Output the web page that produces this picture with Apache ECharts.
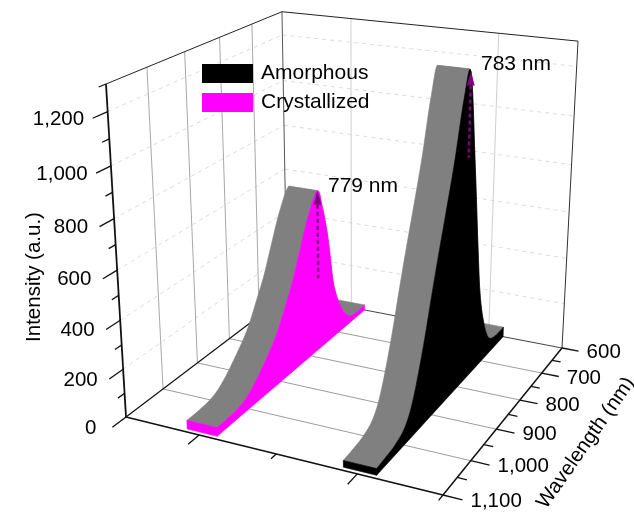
<!DOCTYPE html>
<html>
<head>
<meta charset="utf-8">
<style>html,body{margin:0;padding:0;background:#fff}#chart{width:634px;height:512px}</style>
<script src="https://cdn.jsdelivr.net/npm/echarts@6/dist/echarts.min.js"></script>
</head>
<body>
<div id="chart"></div>
<script>
// ---- data ----
const amorphousWavelength = [600, 640, 671, 696, 714, 728, 752, 778, 803, 832, 860, 885, 907, 937, 970, 997, 1030, 1060, 1092];
const amorphousIntensity  = [44, 46, 75, 178, 314, 511, 900, 1260, 1169, 960, 790, 645, 510, 320, 150, 72, 42, 33, 27];
const crystalWavelength   = [600, 650, 676, 694, 708, 720, 730, 740, 755, 772, 804, 832, 856, 876, 910, 942, 986, 1020, 1063, 1092];
const crystalIntensity    = [24, 26, 64, 120, 180, 260, 385, 495, 610, 697, 613, 498, 395, 328, 221, 154, 80, 46, 36, 36];
const intensityMajor = [200, 400, 600, 800, 1000, 1200];
const intensityMinor = [100, 300, 500, 700, 900, 1100, 1300];
const intensityLabels = ['0', '200', '400', '600', '800', '1,000', '1,200'];
const wavelengthMajor = [600, 700, 800, 900, 1000, 1100];
const wavelengthMinor = [650, 750, 850, 950, 1050];
const wavelengthLabels = ['600', '700', '800', '900', '1,000', '1,100'];

// ---- perspective camera: floor corners and wall tops of the 3D box ----
const pA = [126, 417], pB = [443, 495], pC = [562, 348], pD = [287, 295], pE = [106, 84], pF = [578, 43];
const dx1 = pB[0] - pC[0], dx2 = pD[0] - pC[0], sx = pA[0] - pB[0] + pC[0] - pD[0];
const dy1 = pB[1] - pC[1], dy2 = pD[1] - pC[1], sy = pA[1] - pB[1] + pC[1] - pD[1];
const det = dx1 * dy2 - dx2 * dy1;
const g = (sx * dy2 - dx2 * sy) / det, h = (dx1 * sy - sx * dy1) / det;
const a = pB[0] - pA[0] + g * pB[0], b = pD[0] - pA[0] + h * pD[0], c = pA[0];
const d = pB[1] - pA[1] + g * pB[1], e = pD[1] - pA[1] + h * pD[1], f = pA[1];
const iz = (pF[0] * (g + h + 1) - a - b - pE[0]) / (pE[0] - pF[0]);
const zx = pE[0] * (1 + iz) - c, zy = pE[1] * (1 + iz) - f;
const GRID = 100;

function project(api, u, wl, val) {
  const pt = api.coord([wl, val]);
  const v = pt[0] / GRID, w = (GRID - pt[1]) / GRID;
  const W = g * u + h * v + iz * w + 1;
  return [(a * u + b * v + zx * w + c) / W, (d * u + e * v + zy * w + f) / W];
}
function seg(p, q, stroke, lineWidth, dash) {
  return { type: 'line', shape: { x1: p[0], y1: p[1], x2: q[0], y2: q[1] },
    style: { stroke: stroke, lineWidth: lineWidth, lineDash: dash || null, fill: null } };
}
const FAMILY = '"Liberation Sans", Arial, sans-serif';
const FONT = '20.5px ' + FAMILY, FONT_BIG = '21px ' + FAMILY;
function label(p, text, align) {
  return { type: 'text', x: p[0], y: p[1],
    style: { text: text, fill: '#000', font: FONT, align: align, verticalAlign: 'middle',
             textAlign: align, textVerticalAlign: 'middle' } };
}
const WL_MIN = 600, WL_MAX = 1100, I_MAX = 1300;
const uCentres = [0.25, 0.75], uMinor = [0.5, 1];

function renderBox(params, api) {
  if (params.dataIndex !== 0) return;
  const P = (u, wl, val) => project(api, u, wl, val);
  const kids = [];
  const GRIDDASH = [4, 4], wallDash = '#dcdcdc', wallLine = '#a8a8a8', backLine = '#cfcfcf', floorLine = '#9c9c9c';
  intensityMajor.forEach(t => {
    kids.push(seg(P(0, WL_MAX, t), P(0, WL_MIN, t), wallDash, 1, GRIDDASH));
    kids.push(seg(P(0, WL_MIN, t), P(1, WL_MIN, t), wallDash, 1, GRIDDASH));
  });
  wavelengthMajor.forEach(t => {
    if (t !== WL_MIN && t !== WL_MAX) kids.push(seg(P(0, t, 0), P(0, t, I_MAX), wallLine, 1));
    if (t !== WL_MIN && t !== WL_MAX) kids.push(seg(P(0, t, 0), P(1, t, 0), floorLine, 1));
  });
  uCentres.forEach(u => kids.push(seg(P(u, WL_MIN, 0), P(u, WL_MIN, I_MAX), backLine, 1)));
  // frame
  kids.push(seg(P(0, WL_MIN, 0), P(1, WL_MIN, 0), '#444', 1));
  kids.push(seg(P(0, WL_MIN, 0), P(0, WL_MIN, I_MAX), '#555', 1));
  kids.push(seg(P(1, WL_MIN, 0), P(1, WL_MIN, I_MAX), '#333', 1));
  kids.push(seg(P(0, WL_MAX, I_MAX), P(0, WL_MIN, I_MAX), '#222', 1));
  kids.push(seg(P(0, WL_MIN, I_MAX), P(1, WL_MIN, I_MAX), '#222', 1));
  kids.push(seg(P(0, WL_MAX, 0), P(0, WL_MIN, 0), '#111', 1.2));
  kids.push(seg(P(0, WL_MAX, 0), P(1, WL_MAX, 0), '#111', 1.8));
  kids.push(seg(P(1, WL_MAX, 0), P(1, WL_MIN, 0), '#111', 1.5));
  kids.push(seg(P(0, WL_MAX, 0), P(0, WL_MAX, I_MAX), '#111', 1.8));
  // intensity ticks
  const majorLen = 35, minorLen = 17;
  [0].concat(intensityMajor).forEach((t, idx) => {
    const end = P(0, WL_MAX + majorLen, t), text = intensityLabels[idx];
    const gap = text.length > 3 ? 8.5 : (text.length === 1 ? 16 : 11.5);
    kids.push(seg(P(0, WL_MAX, t), end, '#111', 1.3));
    kids.push(label([end[0] - gap, end[1] + 1], text, 'right'));
  });
  intensityMinor.forEach(t => kids.push(seg(P(0, WL_MAX, t), P(0, WL_MAX + minorLen, t), '#111', 1.3)));
  // wavelength ticks
  wavelengthMajor.forEach((t, idx) => {
    const end = P(1.055, t, 0);
    kids.push(seg(P(1, t, 0), end, '#111', 1.3));
    kids.push(label([end[0] + 8, end[1] + 1.5], wavelengthLabels[idx], 'left'));
  });
  wavelengthMinor.forEach(t => kids.push(seg(P(1, t, 0), P(1.028, t, 0), '#111', 1.3)));
  // sample-position ticks on the front edge
  uCentres.forEach(u => kids.push(seg(P(u, WL_MAX, 0), P(u, WL_MAX + 30, 0), '#111', 1.3)));
  uMinor.forEach(u => kids.push(seg(P(u, WL_MAX, 0), P(u, WL_MAX + 15, 0), '#111', 1.3)));
  return { type: 'group', children: kids };
}

// Catmull-Rom smoothing of the read-off points, for drawing only
function smoothRows(xs, ys) {
  const out = [], n = xs.length, STEPS = 6;
  const cr = (p0, p1, p2, p3, t) => 0.5 * (2 * p1 + (p2 - p0) * t + (2 * p0 - 5 * p1 + 4 * p2 - p3) * t * t + (3 * p1 - p0 - 3 * p2 + p3) * t * t * t);
  for (let i = 0; i < n - 1; i++) {
    const i0 = Math.max(i - 1, 0), i3 = Math.min(i + 2, n - 1);
    for (let s = 0; s < STEPS; s++) {
      const t = s / STEPS;
      out.push([cr(xs[i0], xs[i], xs[i + 1], xs[i3], t), Math.max(0, cr(ys[i0], ys[i], ys[i + 1], ys[i3], t))]);
    }
  }
  out.push([xs[n - 1], ys[n - 1]]);
  return out;
}

function ribbon(xs, ys, uC, colour) {
  const HALF = 0.05, u1 = uC - HALF, u2 = uC + HALF, TOP = '#808080';
  return function (params, api) {
    if (params.dataIndex !== 0) return;
    const P = (u, wl, val) => project(api, u, wl, val);
    const rows = smoothRows(xs, ys), kids = [];
    const poly = (pts, fill) => ({ type: 'polygon', shape: { points: pts },
      style: { fill: fill, stroke: fill, lineWidth: 0.6 } });
    let k = 0;
    rows.forEach((r, i) => { if (r[1] > rows[k][1]) k = i; });
    const strip = part => part.map(r => P(u1, r[0], r[1])).concat(part.slice().reverse().map(r => P(u2, r[0], r[1])));
    kids.push(poly(strip(rows.slice(0, k + 1)), TOP));
    kids.push(poly(strip(rows.slice(k)), TOP));
    const last = rows[rows.length - 1];
    const side = rows.map(r => P(u2, r[0], r[1]));
    side.push(P(u2, last[0], 0), P(u2, rows[0][0], 0));
    kids.push(poly(side, colour));
    kids.push(poly([P(u1, last[0], last[1]), P(u2, last[0], last[1]), P(u2, last[0], 0), P(u1, last[0], 0)], colour));
    return { type: 'group', children: kids };
  };
}

function peakArrow(xs, ys, uC, lowVal) {
  const u2 = uC + 0.05, ARROW = '#800080';
  return function (params, api) {
    if (params.dataIndex !== 0) return;
    let k = 0;
    ys.forEach((v, i) => { if (v > ys[k]) k = i; });
    const tip = project(api, u2, xs[k], ys[k]);
    const low = project(api, u2, xs[k], lowVal);
    const base = [tip[0] + (low[0] - tip[0]) * 14 / (low[1] - tip[1]), tip[1] + 14];
    return { type: 'group', children: [
      seg(base, low, ARROW, 2.5, [4, 3]),
      { type: 'polygon', shape: { points: [tip, [base[0] - 4, base[1]], [base[0] + 4, base[1]]] },
        style: { fill: ARROW } }
    ] };
  };
}

const zip = (xs, ys) => xs.map((x, i) => [x, ys[i]]);
function floating(text, x, y, rotationDeg, align, font) {
  const al = align || 'center';
  return { type: 'text', x: x, y: y, z: 100, rotation: (rotationDeg || 0) * Math.PI / 180,
    style: { text: text, font: font || FONT, fill: '#000', align: al, textAlign: al,
             verticalAlign: 'middle', textVerticalAlign: 'middle' } };
}

const option = {
  backgroundColor: '#fff',
  animation: false,
  grid: { left: 0, top: 0, width: GRID, height: GRID, show: false },
  xAxis: { type: 'value', min: WL_MIN, max: WL_MAX, inverse: true, show: false },
  yAxis: { type: 'value', min: 0, max: I_MAX, show: false },
  legend: {
    data: ['Amorphous', 'Crystallized'], orient: 'vertical', left: 202, top: 63, padding: 0,
    icon: 'rect', itemWidth: 51, itemHeight: 19, itemGap: 8, selectedMode: false,
    textStyle: { fontFamily: FAMILY, fontSize: 21, color: '#000', padding: [0, 0, 0, 3] }
  },
  graphic: { elements: [
    floating('Intensity (a.u.)', 34, 277, 90),
    floating('Wavelength (nm)', 586, 443, 55),
    floating('779 nm', 328, 186, 0, 'left', FONT_BIG),
    floating('783 nm', 481, 64, 0, 'left', FONT_BIG)
  ] },
  series: [
    { type: 'custom', name: 'box', z: 1, silent: true, data: [[600, 0]], encode: { x: 0, y: 1 }, renderItem: renderBox },
    { type: 'custom', name: 'Crystallized', z: 2, silent: true, itemStyle: { color: '#ff00ff' },
      data: zip(crystalWavelength, crystalIntensity), encode: { x: 0, y: 1 },
      renderItem: ribbon(crystalWavelength, crystalIntensity, uCentres[0], '#ff00ff') },
    { type: 'custom', name: 'Amorphous', z: 3, silent: true, itemStyle: { color: '#000000' },
      data: zip(amorphousWavelength, amorphousIntensity), encode: { x: 0, y: 1 },
      renderItem: ribbon(amorphousWavelength, amorphousIntensity, uCentres[1], '#000000') },
    { type: 'custom', name: 'peakC', z: 4, silent: true, data: [[772, 697]], encode: { x: 0, y: 1 },
      renderItem: peakArrow(crystalWavelength, crystalIntensity, uCentres[0], 320) },
    { type: 'custom', name: 'peakA', z: 4, silent: true, data: [[778, 1260]], encode: { x: 0, y: 1 },
      renderItem: peakArrow(amorphousWavelength, amorphousIntensity, uCentres[1], 928) }
  ]
};
const chart = echarts.init(document.getElementById('chart'), null, { renderer: 'canvas' });
chart.setOption(option);
</script>
</body>
</html>
